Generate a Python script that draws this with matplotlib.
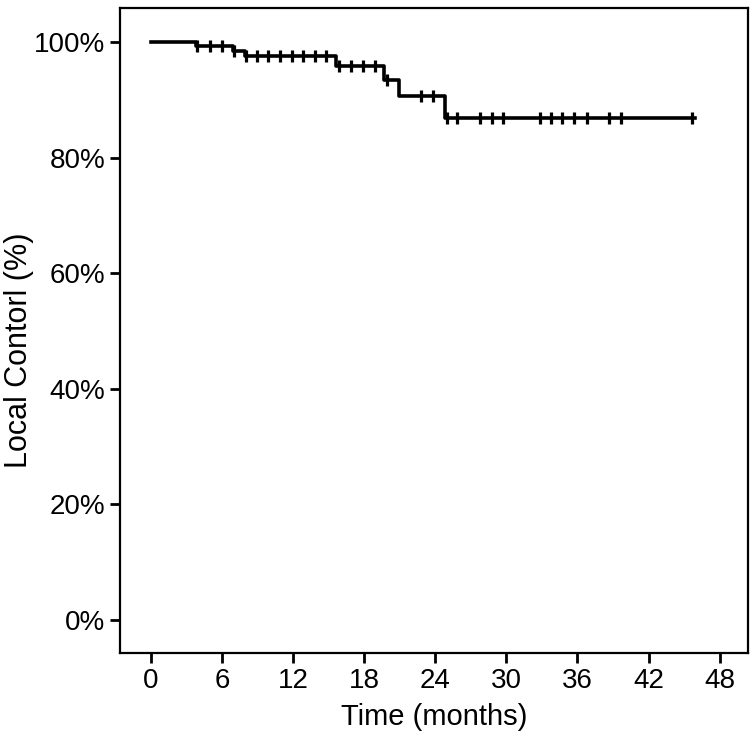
import numpy as np
import matplotlib.pyplot as plt

plt.rcParams['font.family'] = ['Liberation Sans', 'DejaVu Sans']

# Kaplan-Meier steps (months, % local control)
step_times = [0, 3.8, 6.9, 7.9, 15.6, 19.7, 20.9, 24.8]
step_surv = [100, 99.3, 98.4, 97.6, 95.8, 93.5, 90.7, 86.9]
end_time = 45.9

# censored observations (months)
censor_times = [3.9, 5.0, 6.0, 7.0, 8.0, 8.9, 9.9, 10.9, 11.9, 12.8, 13.8, 14.8,
                15.9, 16.9, 17.9, 18.9, 19.9, 22.8, 23.8, 25.0, 25.8, 27.8,
                28.8, 29.7, 32.8, 33.8, 34.7, 35.7, 36.8, 38.7, 39.7, 45.7]

x_ticks = [0, 6, 12, 18, 24, 30, 36, 42, 48]
y_ticks = [0, 20, 40, 60, 80, 100]


def surv_at(t):
    idx = np.searchsorted(step_times, t, side="right") - 1
    return step_surv[idx]


fig = plt.figure(figsize=(7.52, 7.43), dpi=100)
ax = fig.add_axes([0.16, 0.1211, 0.8347, 0.8681])

xs = step_times + [end_time]
ys = step_surv + [step_surv[-1]]
ax.step(xs, ys, where="post", color="black", lw=2.6)

cy = [surv_at(t) for t in censor_times]
ax.plot(censor_times, cy, ls="none", marker="|", markersize=8, mew=2.3, color="black")

ax.set_xlim(-2.6, 50.4)
ax.set_ylim(-5.7, 105.9)
ax.set_xticks(x_ticks)
ax.set_yticks(y_ticks)
ax.set_yticklabels([f"{v}%" for v in y_ticks])
ax.tick_params(axis="both", labelsize=20, length=7, width=2, color="black", pad=4)

for sp in ax.spines.values():
    sp.set_linewidth(1.6)

ax.set_xlabel("Time (months)", fontsize=21, labelpad=6)
ax.set_ylabel("Local Contorl (%)", fontsize=22)
ax.yaxis.set_label_coords(-0.137, 0.47)

fig.savefig("out.png", dpi=100)
